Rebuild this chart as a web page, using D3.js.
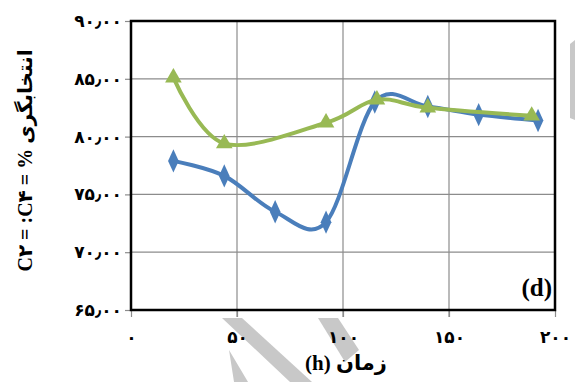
<!DOCTYPE html>
<head>
  <meta charset="utf-8">
  <script src="https://d3js.org/d3.v7.min.js"></script>
  <style>
    body { margin:0; background:#fff; }
    svg { display:block; }
    text { font-family: "Liberation Serif", "DejaVu Sans", serif; font-weight: bold; }
  </style>
</head>
<body>
  <svg width="575" height="382"></svg>
  <script>
    // series (x = time in h, y = selectivity %)
    var blueX = [20, 44, 68, 92, 115, 140, 164, 192];
    var blueY = [77.9, 76.6, 73.5, 72.6, 83.0, 82.6, 81.9, 81.4];
    var greenX = [20, 44, 92, 116, 140, 189];
    var greenY = [85.1, 79.4, 81.2, 83.2, 82.5, 81.8];

    var yTicks = [65, 70, 75, 80, 85, 90];
    var yTickLabels = ['۶۵٫۰۰', '۷۰٫۰۰', '۷۵٫۰۰', '۸۰٫۰۰', '۸۵٫۰۰', '۹۰٫۰۰'];
    var xTicks = [0, 50, 100, 150, 200];
    var xTickLabels = ['۰', '۵۰', '۱۰۰', '۱۵۰', '۲۰۰'];

    var width = 575, height = 382;
    var margin = {top: 21, right: 20, bottom: 72, left: 131};

    var svg = d3.select('svg');

    var x = d3.scaleLinear().domain([0, 200]).range([margin.left, width - margin.right]);
    var y = d3.scaleLinear().domain([65, 90]).range([height - margin.bottom, margin.top]);

    // watermark shapes behind everything
    var wm = svg.append('g').attr('fill', '#c8c8c8');
    wm.append('path').attr('d', 'M222,318 L242,318 L312,382 L290,382 Z');
    wm.append('path').attr('d', 'M234,382 L229,350 L248,382 Z');
    wm.append('path').attr('d', 'M318,318 L338,318 L359,350 L345,362 Z');
    wm.append('path').attr('d', 'M570,44 L575,40 L575,120 L570,118 Z');

    // grid
    var grid = svg.append('g').attr('stroke', '#8c8c8c').attr('stroke-width', 1.2);
    grid.selectAll('line.h').data(yTicks.slice(1, -1)).enter().append('line')
      .attr('x1', x(0)).attr('x2', x(200))
      .attr('y1', d => y(d)).attr('y2', d => y(d));
    grid.selectAll('line.v').data(xTicks.slice(1, -1)).enter().append('line')
      .attr('y1', y(90)).attr('y2', y(65) + 7)
      .attr('x1', d => x(d)).attr('x2', d => x(d));

    // axes
    var yAxis = d3.axisLeft(y).tickValues(yTicks).tickSize(6).tickPadding(3)
      .tickFormat((d, i) => yTickLabels[i]);
    var gy = svg.append('g').attr('transform', 'translate(' + x(0) + ',0)').call(yAxis);
    var xAxis = d3.axisBottom(x).tickValues(xTicks).tickSize(7).tickPadding(14)
      .tickFormat((d, i) => xTickLabels[i]);
    var gx = svg.append('g').attr('transform', 'translate(0,' + y(65) + ')').call(xAxis);
    [gx, gy].forEach(g => {
      g.select('.domain').remove();
      g.selectAll('.tick line').attr('stroke', '#8c8c8c').attr('stroke-width', 1.2);
      g.selectAll('.tick text').attr('font-size', 17).attr('fill', '#000')
        .style('font-family', '"DejaVu Sans", sans-serif');
    });

    // plot frame
    svg.append('rect')
      .attr('x', x(0)).attr('y', y(90))
      .attr('width', x(200) - x(0)).attr('height', y(65) - y(90))
      .attr('fill', 'none').attr('stroke', '#000').attr('stroke-width', 2.5);

    var line = d3.line().curve(d3.curveCatmullRom.alpha(0))
      .x(d => x(d[0])).y(d => y(d[1]));

    var blue = blueX.map((v, i) => [v, blueY[i]]);
    var green = greenX.map((v, i) => [v, greenY[i]]);

    svg.append('path').datum(blue).attr('d', line)
      .attr('fill', 'none').attr('stroke', '#4a7ebb').attr('stroke-width', 4);
    svg.append('g').selectAll('path').data(blue).enter().append('path')
      .attr('d', d3.symbol(d3.symbolDiamond, 110))
      .attr('transform', d => 'translate(' + x(d[0]) + ',' + y(d[1]) + ') scale(0.95,1.2)')
      .attr('fill', '#4a7ebb');

    svg.append('path').datum(green).attr('d', line)
      .attr('fill', 'none').attr('stroke', '#98b954').attr('stroke-width', 4);
    svg.append('g').selectAll('path').data(green).enter().append('path')
      .attr('d', d3.symbol(d3.symbolTriangle, 120))
      .attr('transform', d => 'translate(' + x(d[0]) + ',' + y(d[1]) + ')')
      .attr('fill', '#98b954');

    // panel label
    svg.append('text').attr('x', x(200) - 3).attr('y', y(65) - 14)
      .attr('text-anchor', 'end').attr('font-size', 25).text('(d)');

    // axis titles
    svg.append('text')
      .attr('x', (x(0) + x(200)) / 2 + 3).attr('y', 370)
      .attr('text-anchor', 'middle').attr('font-size', 21)
      .text('(h) زمان');

    svg.append('text')
      .attr('transform', 'translate(32,' + ((y(65) + y(90)) / 2 - 5) + ') rotate(-90)')
      .attr('text-anchor', 'middle').attr('font-size', 20)
      .text('C۲ = :C۴ = % انتخابگری');
  </script>
</body>
